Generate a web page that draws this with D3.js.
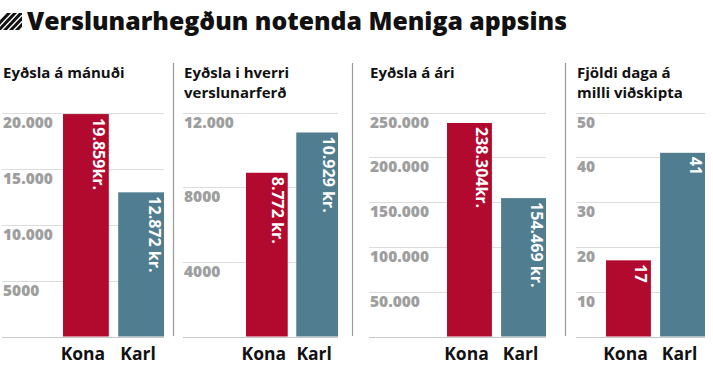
<!DOCTYPE html>
<html>
<head>
<meta charset="utf-8">
<script src="https://cdn.jsdelivr.net/npm/d3@7"></script>
<style>
  body { margin: 0; background: #fff; }
  svg text { font-family: "Open Sans", "Noto Sans", sans-serif; }
</style>
</head>
<body>
<div id="chart"></div>
<script>
// data
var title = "Verslunarhegðun notenda Meniga appsins";
var categories = ["Kona", "Karl"];
var panelTitles = [
  ["Eyðsla á mánuði"],
  ["Eyðsla i hverri", "verslunarferð"],
  ["Eyðsla á ári"],
  ["Fjöldi daga á", "milli viðskipta"]
];
var monthValues = [19859, 12872];
var tripValues = [8772, 10929];
var yearValues = [238304, 154469];
var dayValues = [17, 41];
var monthLabels = ["19.859kr.", "12.872 kr."];
var tripLabels = ["8.772 kr.", "10.929 kr."];
var yearLabels = ["238.304kr.", "154.469 kr."];
var dayLabels = ["17", "41"];
var monthTicks = [5000, 10000, 15000, 20000];
var tripTicks = [4000, 8000, 12000];
var yearTicks = [50000, 100000, 150000, 200000, 250000];
var dayTicks = [10, 20, 30, 40, 50];
var monthTickLabels = ["5000", "10.000", "15.000", "20.000"];
var tripTickLabels = ["4000", "8000", "12.000"];
var yearTickLabels = ["50.000", "100.000", "150.000", "200.000", "250.000"];
var dayTickLabels = ["10", "20", "30", "40", "50"];

var colors = ["#b20a2f", "#507d90"];

function init() {
  var w = 713, h = 378;
  var svg = d3.select("#chart").append("svg")
    .attr("width", w).attr("height", h);

  // header icon: diagonal stripes
  svg.append("clipPath").attr("id", "iconclip")
    .append("rect").attr("x", 0).attr("y", 13).attr("width", 22).attr("height", 17);
  var icon = svg.append("g").attr("clip-path", "url(#iconclip)");
  [-8, -2, 4, 10, 16].forEach(function(o) {
    icon.append("line")
      .attr("x1", o).attr("y1", 31).attr("x2", o + 18).attr("y2", 12)
      .attr("stroke", "#111").attr("stroke-width", 3);
  });

  svg.append("text")
    .attr("x", 27).attr("y", 30)
    .attr("font-size", 24.8).attr("font-weight", 800)
    .attr("fill", "#111")
    .text(title);

  var panels = [
    {values: monthValues, labels: monthLabels, ticks: monthTicks, tickLabels: monthTickLabels,
     max: 20000, gx0: 2, bx0: 63, x1: 164, tx: 3, sep: 173},
    {values: tripValues, labels: tripLabels, ticks: tripTicks, tickLabels: tripTickLabels,
     max: 12000, gx0: 183, bx0: 246, x1: 338, tx: 184, sep: 352},
    {values: yearValues, labels: yearLabels, ticks: yearTicks, tickLabels: yearTickLabels,
     max: 250000, gx0: 369, bx0: 447, x1: 546, tx: 370, sep: 565},
    {values: dayValues, labels: dayLabels, ticks: dayTicks, tickLabels: dayTickLabels,
     max: 50, gx0: 576, bx0: 606, x1: 705, tx: 577, sep: null}
  ];

  var top = 112.5, bottom = 336.5;

  panels.forEach(function(p, pi) {
    var g = svg.append("g");

    // panel title, one text per line
    g.selectAll("text.ptitle")
      .data(panelTitles[pi])
      .enter().append("text")
      .attr("class", "ptitle")
      .attr("x", p.tx)
      .attr("y", function(d, i) { return 78 + i * 19.5; })
      .attr("font-size", 15).attr("font-weight", 700)
      .attr("fill", "#111")
      .text(function(d) { return d; });

    var y = d3.scaleLinear().domain([0, p.max]).range([bottom, top]);
    var x = d3.scaleBand().domain(categories)
      .range([p.bx0, p.x1]).paddingInner(0.17).paddingOuter(0);

    // gridlines
    g.selectAll("line.grid")
      .data(p.ticks)
      .enter().append("line")
      .attr("class", "grid")
      .attr("x1", p.gx0).attr("x2", p.x1)
      .attr("y1", function(d) { return Math.round(y(d)) + 0.5; })
      .attr("y2", function(d) { return Math.round(y(d)) + 0.5; })
      .attr("stroke", "#dcdcdc").attr("stroke-width", 1);

    // baseline
    g.append("line")
      .attr("x1", p.gx0).attr("x2", p.x1)
      .attr("y1", Math.round(y(0)) + 0.5).attr("y2", Math.round(y(0)) + 0.5)
      .attr("stroke", "#c8c8c8").attr("stroke-width", 1);

    // tick labels
    g.selectAll("text.tick")
      .data(p.ticks)
      .enter().append("text")
      .attr("class", "tick")
      .attr("x", p.tx)
      .attr("y", function(d) { return y(d) + 15; })
      .attr("font-size", 15.5).attr("font-weight", 800)
      .attr("fill", "#9e9e9e")
      .text(function(d, i) { return p.tickLabels[i]; });

    // bars
    g.selectAll("rect")
      .data(p.values)
      .enter().append("rect")
      .attr("x", function(d, i) { return x(categories[i]); })
      .attr("y", function(d) { return y(d); })
      .attr("width", x.bandwidth())
      .attr("height", function(d) { return y(0) - y(d); })
      .attr("fill", function(d, i) { return colors[i]; });

    // value labels (rotated, reading downward)
    g.selectAll("text.val")
      .data(p.values)
      .enter().append("text")
      .attr("class", "val")
      .attr("transform", function(d, i) {
        var cx = x(categories[i]) + x.bandwidth() - 15.5;
        return "translate(" + cx + "," + (y(d) + 4) + ") rotate(90)";
      })
      .attr("font-family", "Roboto, sans-serif")
      .attr("font-size", 16).attr("font-weight", 700)
      .attr("fill", "#fff")
      .text(function(d, i) { return p.labels[i]; });

    // category labels
    g.selectAll("text.cat")
      .data(categories)
      .enter().append("text")
      .attr("class", "cat")
      .attr("x", function(d) { return x(d) + x.bandwidth() / 2 - 3; })
      .attr("y", 360)
      .attr("text-anchor", "middle")
      .attr("font-size", 17.5).attr("font-weight", 700)
      .attr("fill", "#111")
      .text(function(d) { return d; });

    // separator
    if (p.sep !== null) {
      svg.append("line")
        .attr("x1", p.sep + 0.5).attr("x2", p.sep + 0.5)
        .attr("y1", 63).attr("y2", 336)
        .attr("stroke", "#9a9a9a").attr("stroke-width", 1.2);
    }
  });
}

window.onload = init;
</script>
</body>
</html>
